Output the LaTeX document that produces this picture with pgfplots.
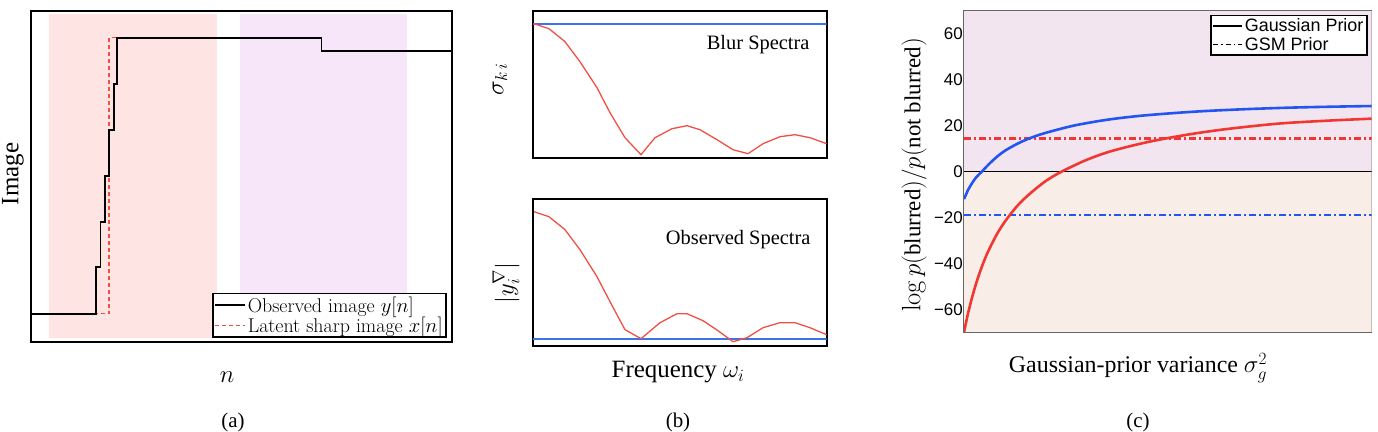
\documentclass[border=0pt]{standalone}
\usepackage{pgfplots}
\pgfplotsset{compat=1.18}
\usepackage{graphicx}
\usepackage{fontspec}
\newfontfamily\tms{Liberation Serif}
\newfontfamily\helv{Liberation Sans}
\definecolor{bgpink}{RGB}{255,228,228}
\definecolor{bglav}{RGB}{247,229,250}
\definecolor{bgtop}{RGB}{243,229,240}
\definecolor{bgbot}{RGB}{248,238,231}
\definecolor{specred}{RGB}{240,80,68}
\definecolor{specblue}{RGB}{60,115,235}
\definecolor{curveblue}{RGB}{35,85,240}
\definecolor{curvered}{RGB}{240,55,50}
\pgfplotsset{
  panel/.style={scale only axis, anchor=south west, clip=true},
}
\begin{document}
\begin{tikzpicture}
\useasboundingbox (0,0) rectangle (1378bp,432bp);

% ---------- (a) observed vs latent signal ----------
\begin{axis}[panel, width=421bp, height=331bp, at={(30.7bp,90.3bp)},
  xmin=0, xmax=421, ymin=0, ymax=331, ticks=none,
  axis line style={line width=1.8bp},
  reverse legend, legend cell align=left,
  legend style={at={(0.988,0.012)}, anchor=south east, draw=black,
    line width=1.6bp, font=\fontsize{20}{20}\selectfont, inner sep=1.2bp, row sep=-1bp},
  legend image code/.code={\draw[#1] (0bp,0bp) -- (30bp,0bp);}]
\addplot[draw=none, fill=bgpink, forget plot] coordinates {(18.6,3.7) (186,3.7) (186,328) (18.6,328)} -- cycle;
\addplot[draw=none, fill=bglav, forget plot] coordinates {(209.3,3.7) (376.6,3.7) (376.6,328) (209.3,328)} -- cycle;
\addplot[specred, line width=1.3bp, dash pattern=on 4bp off 3bp] coordinates {
  (0,28) (78.3,28) (78.3,304) (290.7,304) (290.7,290.3) (421,290.3)};
\addlegendentry{Latent sharp image $x[n]$}
\addplot[black, line width=1.8bp] coordinates {
  (0,28) (65.3,28) (65.3,75) (69.7,75) (69.7,120) (74.3,120) (74.3,166)
  (78.3,166) (78.3,212) (83.3,212) (83.3,258) (86.3,258) (86.3,304)
  (290.7,304) (290.7,290.3) (421,290.3)};
\addlegendentry{Observed image $y[n]$}
\end{axis}

% ---------- (b) top: blur spectra ----------
\begin{axis}[panel, width=293.7bp, height=146.7bp, at={(533bp,274.3bp)},
  xmin=0, xmax=293.7, ymin=0, ymax=146.7, ticks=none,
  axis line style={line width=1.8bp}]
\addplot[specblue, line width=1.8bp] coordinates {(0,134) (293.7,134)};
\addplot[specred, line width=1.3bp] coordinates {
  (1,134) (16,129) (32,116) (47,96) (64,70) (77,45) (92,20) (108,3)
  (122,20) (139,29) (154,32) (167,28) (184,18) (200,8) (215,4)
  (230,14) (247,21) (262,23) (277,20) (293.7,14)};
\end{axis}

% ---------- (b) bottom: observed spectra ----------
\begin{axis}[panel, width=293.7bp, height=146.7bp, at={(533bp,86.3bp)},
  xmin=0, xmax=293.7, ymin=0, ymax=146.7, ticks=none,
  axis line style={line width=1.8bp}]
\addplot[specblue, line width=1.8bp] coordinates {(0,7) (293.7,7)};
\addplot[specred, line width=1.3bp] coordinates {
  (1,134) (16,129) (32,116) (47,96) (64,69) (77,44) (92,16) (108,7)
  (127,23) (144,32) (154,32) (170,25) (185,15) (200,4) (214,8)
  (230,18) (247,23) (262,23) (277,18) (293.7,11)};
\end{axis}

% ---------- (c) log-likelihood ratio ----------
\begin{axis}[panel, width=407.7bp, height=321.6bp, at={(964bp,99.7bp)},
  xmin=0, xmax=1, ymin=-70, ymax=70, xtick=\empty,
  ytick={-60,-40,-20,0,20,40,60},
  yticklabels={−60,−40,−20,0,20,40,60},
  yticklabel style={font=\helv\fontsize{17}{17}\selectfont, inner sep=1bp},
  major tick length=0pt,
  axis line style={black!60, line width=1.2bp},
  legend cell align=left,
  legend style={at={(0.99,0.988)}, anchor=north east, draw=black,
    line width=1.4bp, font=\helv\fontsize{18}{18}\selectfont, inner sep=1.5bp, row sep=0bp},
  legend image code/.code={\draw[#1] (0bp,0bp) -- (29bp,0bp);}]
\addplot[draw=none, fill=bgtop, forget plot] coordinates {(0,0) (1,0) (1,70) (0,70)} -- cycle;
\addplot[draw=none, fill=bgbot, forget plot] coordinates {(0,-70) (1,-70) (1,0) (0,0)} -- cycle;
\addplot[black, line width=1.2bp, forget plot] coordinates {(0,0) (1,0)};
\addplot[curvered, line width=2.4bp, dash pattern=on 7bp off 3bp on 2bp off 3bp, forget plot]
  coordinates {(0,14.3) (1,14.3)};
\addplot[curveblue, line width=2.4bp, dash pattern=on 7bp off 3bp on 2bp off 3bp, forget plot]
  coordinates {(0,-19) (1,-19)};
\addplot[curveblue, line width=2.6bp, smooth, forget plot] coordinates {
  (0,-12) (0.005,-10) (0.01,-8) (0.02,-5) (0.03,-2.5) (0.044,0) (0.06,3) (0.08,6.3)
  (0.1,9) (0.13,12) (0.16,14.4) (0.2,16.8) (0.27,20) (0.35,22.5) (0.43,24.2)
  (0.52,25.5) (0.6,26.4) (0.7,27.2) (0.8,27.8) (0.9,28.2) (1.0,28.5)};
\addplot[curvered, line width=2.6bp, smooth, forget plot] coordinates {
  (0,-70) (0.005,-65.7) (0.01,-61.7) (0.015,-58.1) (0.02,-54.7) (0.03,-48.6)
  (0.04,-43.3) (0.05,-38.6) (0.06,-34.5) (0.08,-27.5) (0.1,-21.9) (0.13,-15.1)
  (0.16,-9.9) (0.2,-4.2) (0.24,0) (0.3,5.0) (0.36,8.8) (0.45,12.8) (0.55,16.1)
  (0.65,18.6) (0.775,20.9) (0.9,22.2) (1.0,23)};
\addlegendimage{black, line width=1.2bp}
\addlegendentry{Gaussian Prior}
\addlegendimage{black, line width=1.2bp, dash pattern=on 5bp off 3bp on 1.5bp off 3bp}
\addlegendentry{GSM Prior}
\end{axis}

% ---------- labels ----------
\node[rotate=90, font=\fontsize{25}{25}\selectfont] at (13bp,258bp) {\tms Image};
\node[anchor=base, font=\fontsize{25}{25}\selectfont] at (227bp,49bp) {$n$};
\node[anchor=base, font=\fontsize{21}{21}\selectfont] at (233bp,5bp) {\tms (a)};

\node[rotate=90, font=\fontsize{25}{25}\selectfont] at (500bp,353bp) {$\sigma_{k\,i}$};
\node[rotate=90, font=\fontsize{25}{25}\selectfont] at (506bp,149bp) {$|y_i^{\nabla}|$};
\node[anchor=base east, font=\fontsize{20.5}{20.5}\selectfont] at (813bp,382bp) {\tms Blur Spectra};
\node[anchor=base east, font=\fontsize{20.5}{20.5}\selectfont] at (814bp,187bp) {\tms Observed Spectra};
\node[anchor=base, font=\fontsize{25}{25}\selectfont] at (678bp,54bp) {\tms Frequency $\omega_i$};
\node[anchor=base, font=\fontsize{21}{21}\selectfont] at (678bp,5bp) {\tms (b)};

\node[rotate=90, inner sep=0pt] at (914bp,257bp)
  {\resizebox{274bp}{!}{\fontsize{22}{22}\selectfont
   $\log p\Big(\mbox{\tms\fontsize{19}{19}\selectfont blurred}\Big)/p\Big(\mbox{\tms\fontsize{19}{19}\selectfont not blurred}\Big)$}};
\node[anchor=base, font=\fontsize{24}{24}\selectfont] at (1138bp,59bp) {\tms Gaussian-prior variance $\sigma_g^2$};
\node[anchor=base, font=\fontsize{21}{21}\selectfont] at (1138bp,5bp) {\tms (c)};
\end{tikzpicture}
\end{document}
